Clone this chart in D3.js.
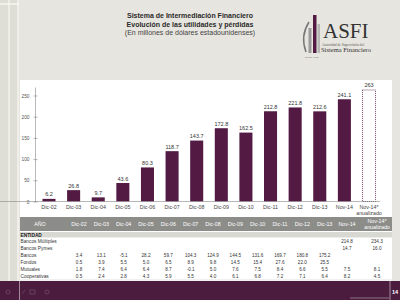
<!DOCTYPE html>
<html>
<head>
<meta charset="utf-8">
<script src="https://cdn.jsdelivr.net/npm/d3@7"></script>
<style>
  body { margin: 0; padding: 0; }
  svg { display: block; font-family: "Liberation Sans", Arial, sans-serif; }
</style>
</head>
<body>
<div id="chart"></div>
<script>
// categorías y valores (millones de USD)
const categorias = ["Dic-02", "Dic-03", "Dic-04", "Dic-05", "Dic-06", "Dic-07", "Dic-08", "Dic-09", "Dic-10", "Dic-11", "Dic-12", "Dic-13", "Nov-14", "Nov-14*"];
const utilidades = [6.2, 26.8, 9.7, 43.6, 80.3, 118.7, 143.7, 172.8, 162.5, 212.8, 221.8, 212.6, 241.1, 263];
const anualizado = [false, false, false, false, false, false, false, false, false, false, false, false, false, true];
const yTicks = [0, 50, 100, 150, 200, 250];

// tabla por entidad
const entidades = ["Bancos Múltiples", "Bancos Pymes", "Bancos", "Fondos", "Mutuales", "Cooperativas"];
const bancosMultiples = [null, null, null, null, null, null, null, null, null, null, null, null, 214.8, 234.3];
const bancosPymes = [null, null, null, null, null, null, null, null, null, null, null, null, 14.7, 16.0];
const bancos = [3.4, 13.1, -5.1, 28.2, 59.7, 104.3, 124.9, 144.5, 131.6, 169.7, 180.8, 175.2, null, null];
const fondos = [0.5, 3.9, 5.5, 5.0, 6.5, 8.9, 9.8, 14.5, 15.4, 27.6, 22.0, 25.5, null, null];
const mutuales = [1.8, 7.4, 6.4, 6.4, 8.7, -0.1, 5.0, 7.6, 7.5, 8.4, 6.6, 5.5, 7.5, 8.1];
const cooperativas = [0.5, 2.4, 2.8, 4.3, 5.9, 5.5, 4.0, 6.1, 6.8, 7.2, 7.1, 6.4, 8.2, 4.5];
const filas = [bancosMultiples, bancosPymes, bancos, fondos, mutuales, cooperativas];

const W = 400, H = 300;
const morado = "#531b44";

const svg = d3.select("#chart").append("svg")
    .attr("width", W)
    .attr("height", H);

// fondo de la diapositiva
svg.append("rect").attr("width", W).attr("height", H).attr("fill", "#e7e5df");
svg.append("rect").attr("x", 0).attr("y", 0).attr("width", 19).attr("height", H).attr("fill", "#deddd6");
svg.append("line").attr("x1", 9).attr("x2", 9).attr("y1", 0).attr("y2", 281).attr("stroke", "#f2f1ec").attr("stroke-width", 1.5);
svg.append("line").attr("x1", 18).attr("x2", 18).attr("y1", 0).attr("y2", 281).attr("stroke", "#f4f3ef").attr("stroke-width", 1.5);
svg.append("line").attr("x1", 0).attr("x2", 19).attr("y1", 4).attr("y2", 4).attr("stroke", "#f7f6f2").attr("stroke-width", 1.5);

// panel blanco
svg.append("rect").attr("x", 20).attr("y", 80).attr("width", 372).attr("height", 201).attr("fill", "#ffffff");

// título
const titulo = svg.append("g").attr("text-anchor", "middle").attr("fill", "#2a2a2a");
titulo.append("text").attr("x", 190).attr("y", 18).attr("font-size", 7).attr("font-weight", "bold").text("Sistema de Intermediación Financiero");
titulo.append("text").attr("x", 190).attr("y", 26.5).attr("font-size", 7).attr("font-weight", "bold").text("Evolución de las utilidades y pérdidas");
titulo.append("text").attr("x", 190).attr("y", 35).attr("font-size", 7).attr("fill", "#444").text("(En millones de dólares estadounidenses)");

// logo ASFI
const logo = svg.append("g");
logo.append("path").attr("d", "M309,22 Q300,36 306,52").attr("fill", "none").attr("stroke", "#777").attr("stroke-width", 1.5);
logo.append("rect").attr("x", 313).attr("y", 15).attr("width", 3.5).attr("height", 38).attr("fill", morado);
logo.append("rect").attr("x", 308.5).attr("y", 28).attr("width", 3).attr("height", 25).attr("fill", "#9a9a9a");
logo.append("rect").attr("x", 317.5).attr("y", 24).attr("width", 2.5).attr("height", 29).attr("fill", "#b5b5b5");
logo.append("text").attr("x", 323).attr("y", 37.5).attr("font-family", "Liberation Serif, serif").attr("font-size", 21).attr("fill", "#333").text("ASFI");
logo.append("text").attr("x", 322).attr("y", 45.8).attr("font-family", "Liberation Serif, serif").attr("font-size", 3.6).attr("fill", "#555").text("Autoridad de Supervisión del");
logo.append("text").attr("x", 321).attr("y", 51.5).attr("font-family", "Liberation Serif, serif").attr("font-size", 6.5).attr("fill", "#333").text("Sistema Financiero");
logo.append("text").attr("x", 305).attr("y", 58).attr("font-size", 2.5).attr("fill", "#777").text("Desde 1928");

// escalas
const x = d3.scaleBand()
    .domain(categorias)
    .range([36.7, 381.3])
    .paddingInner(0.47)
    .paddingOuter(0.235);

const y = d3.scaleLinear()
    .domain([0, 270])
    .range([201.5, 87]);

// eje Y
const yAxis = svg.append("g")
    .attr("transform", "translate(35,0)")
    .call(d3.axisLeft(y).tickValues(yTicks).tickSize(2.5).tickSizeOuter(0).tickPadding(3));
yAxis.selectAll("path, line").attr("stroke", "#888").attr("stroke-width", 0.6);
yAxis.selectAll("text").attr("font-size", 4.8).attr("fill", "#555");
yAxis.selectAll(".tick line").attr("x2", 2.5).attr("x1", -1.5);

// barras
const datos = categorias.map((c, i) => ({ cat: c, valor: utilidades[i], anual: anualizado[i] }));

svg.append("g").selectAll("rect")
    .data(datos)
    .enter()
    .append("rect")
    .attr("x", d => x(d.cat))
    .attr("y", d => y(d.valor))
    .attr("width", x.bandwidth())
    .attr("height", d => y(0) - y(d.valor))
    .attr("fill", d => d.anual ? "#ffffff" : morado)
    .attr("stroke", d => d.anual ? morado : "none")
    .attr("stroke-width", 0.8)
    .attr("stroke-dasharray", d => d.anual ? "1,1" : null);

// etiquetas de valor
svg.append("g").selectAll("text")
    .data(datos)
    .enter()
    .append("text")
    .attr("x", d => x(d.cat) + x.bandwidth() / 2)
    .attr("y", d => y(d.valor) - 2.5)
    .attr("text-anchor", "middle")
    .attr("font-size", 5.5)
    .attr("fill", "#333")
    .text(d => d.valor);

// eje X
const xAxis = svg.append("g")
    .attr("transform", `translate(0,${y(0)})`)
    .call(d3.axisBottom(x).tickSize(0).tickSizeOuter(0).tickPadding(4));
xAxis.select(".domain").attr("stroke", "#888").attr("stroke-width", 0.6)
    .attr("d", `M-1.7,0H${x.range()[1] - 1.3}`);
xAxis.selectAll("text").attr("font-size", 5.3).attr("fill", "#444")
    .each(function(d) {
        if (d === "Nov-14*") {
            const t = d3.select(this).text(null);
            t.append("tspan").attr("x", 0).text("Nov-14*");
            t.append("tspan").attr("x", 0).attr("dy", "1.15em").text("anualizado");
        }
    });

// tabla
const col = d3.scalePoint().domain(categorias.slice(0, 13)).range([79, 347]);
const colX = (c, i) => i < 13 ? col(c) : col(categorias[12]) + 30;
const tablaTop = 217, tablaH = 14;

svg.append("rect").attr("x", 20).attr("y", tablaTop).attr("width", 372).attr("height", tablaH).attr("fill", "#8c8c89");
const cab = svg.append("g").attr("fill", "#ffffff").attr("font-size", 5.3).attr("text-anchor", "middle");
cab.append("text").attr("x", 40).attr("y", tablaTop + 9).text("AÑO");
categorias.forEach((c, i) => {
    if (i < 13) {
        cab.append("text").attr("x", colX(c, i)).attr("y", tablaTop + 9).text(c);
    } else {
        cab.append("text").attr("x", colX(c, i)).attr("y", tablaTop + 5.5).text("Nov-14*");
        cab.append("text").attr("x", colX(c, i)).attr("y", tablaTop + 11.5).text("anualizado");
    }
});

svg.append("rect").attr("x", 20).attr("y", 232).attr("width", 372).attr("height", 5.5).attr("fill", "#d9d9d3");
svg.append("text").attr("x", 20.5).attr("y", 236.5).attr("font-size", 4.8).attr("font-weight", "bold").attr("fill", "#222").text("ENTIDAD");

const fila = d3.scaleBand().domain(entidades).range([238, 280]);

svg.append("g").selectAll("text")
    .data(entidades)
    .enter()
    .append("text")
    .attr("x", 20.5)
    .attr("y", d => fila(d) + fila.bandwidth() / 2 + 1.7)
    .attr("font-size", 4.8)
    .attr("fill", "#333")
    .text(d => d);

entidades.forEach((e, r) => {
    svg.append("g").selectAll("text")
        .data(filas[r].map((v, i) => ({ v: v, i: i })).filter(d => d.v !== null))
        .enter()
        .append("text")
        .attr("x", d => colX(categorias[d.i], d.i))
        .attr("y", fila(e) + fila.bandwidth() / 2 + 1.7)
        .attr("text-anchor", "middle")
        .attr("font-size", 4.6)
        .attr("fill", "#333")
        .text(d => d.v.toFixed(1));
});

svg.append("line").attr("x1", 20).attr("x2", 392).attr("y1", 280).attr("y2", 280).attr("stroke", "#cfcfcf").attr("stroke-width", 0.6);

// banda inferior
svg.append("rect").attr("x", 0).attr("y", 281).attr("width", W).attr("height", 19).attr("fill", "#4c1c3e");
svg.append("line").attr("x1", 19.5).attr("x2", 19.5).attr("y1", 281).attr("y2", 300).attr("stroke", "#b9a9b4").attr("stroke-width", 0.8);
svg.append("line").attr("x1", 390).attr("x2", 390).attr("y1", 281).attr("y2", 300).attr("stroke", "#b9a9b4").attr("stroke-width", 0.8);
svg.append("line").attr("x1", 350).attr("x2", 389).attr("y1", 298).attr("y2", 298).attr("stroke", "#9d8b98").attr("stroke-width", 0.8);
svg.append("text").attr("x", 395).attr("y", 294).attr("text-anchor", "middle").attr("font-size", 5.5).attr("font-weight", "bold").attr("fill", "#ffffff").text("14");

// iconos de navegación
const nav = svg.append("g").attr("fill", "none").attr("stroke", "#6e4a64").attr("stroke-width", 0.8);
nav.append("circle").attr("cx", 8).attr("cy", 292).attr("r", 2);
nav.append("path").attr("d", "M22,294 L25,290");
nav.append("rect").attr("x", 30).attr("y", 290).attr("width", 5).attr("height", 4);
nav.append("circle").attr("cx", 47).attr("cy", 292).attr("r", 2);
</script>
</body>
</html>
